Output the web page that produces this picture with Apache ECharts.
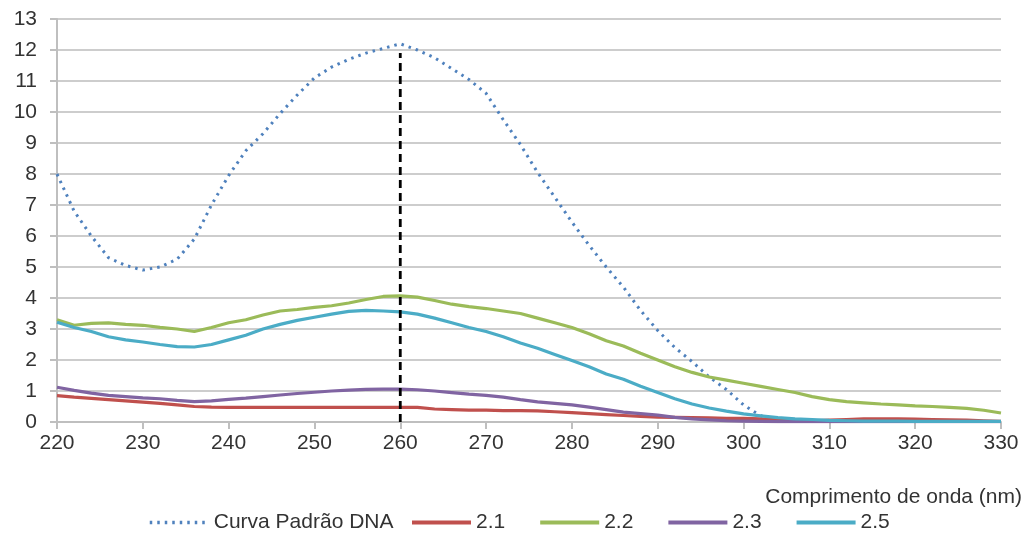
<!DOCTYPE html>
<html>
<head>
<meta charset="utf-8">
<script src="https://cdn.jsdelivr.net/npm/echarts@6/dist/echarts.min.js"></script>
<style>
  html, body { margin: 0; padding: 0; background: #fff; }
  #main { width: 1024px; height: 537px; }
</style>
</head>
<body>
<div id="main"></div>
<script>
    // comprimento de onda (nm), passo de 2
    let wave = [220, 222, 224, 226, 228, 230, 232, 234, 236, 238,
        240, 242, 244, 246, 248, 250, 252, 254, 256, 258,
        260, 262, 264, 266, 268, 270, 272, 274, 276, 278,
        280, 282, 284, 286, 288, 290, 292, 294, 296, 298,
        300, 302, 304, 306, 308, 310, 312, 314, 316, 318,
        320, 322, 324, 326, 328, 330];

    let dna = [8.0, 6.8, 6.0, 5.3, 5.05, 4.9, 5.0, 5.25, 5.9, 7.0,
        7.95, 8.75, 9.3, 9.95, 10.55, 11.1, 11.45, 11.7, 11.9, 12.05,
        12.2, 12.0, 11.75, 11.4, 11.05, 10.6, 9.75, 8.95, 8.05, 7.25,
        6.45, 5.7, 5.0, 4.35, 3.6, 2.95, 2.4, 1.95, 1.45, 1.05,
        0.55, 0.2, 0.05, 0.02, 0.02, 0.02, 0.02, 0.02, 0.02, 0.02,
        0.02, 0.02, 0.02, 0.02, 0.02, 0.02];

    let s21 = [0.85, 0.8, 0.76, 0.72, 0.68, 0.64, 0.6, 0.55, 0.5, 0.48,
        0.47, 0.47, 0.47, 0.47, 0.47, 0.47, 0.47, 0.47, 0.47, 0.47,
        0.47, 0.47, 0.42, 0.4, 0.38, 0.38, 0.37, 0.37, 0.36, 0.33,
        0.3, 0.27, 0.24, 0.21, 0.18, 0.16, 0.15, 0.14, 0.13, 0.12,
        0.12, 0.1, 0.07, 0.04, 0.04, 0.06, 0.08, 0.1, 0.1, 0.1,
        0.09, 0.08, 0.07, 0.06, 0.04, 0.02];

    let s22 = [3.3, 3.12, 3.18, 3.2, 3.15, 3.12, 3.05, 3.0, 2.92, 3.05,
        3.2, 3.3, 3.45, 3.58, 3.63, 3.7, 3.75, 3.84, 3.95, 4.05,
        4.07, 4.03, 3.92, 3.8, 3.72, 3.66, 3.58, 3.5, 3.35, 3.2,
        3.05, 2.85, 2.62, 2.45, 2.22, 2.0, 1.78, 1.6, 1.45, 1.35,
        1.25, 1.15, 1.05, 0.95, 0.82, 0.72, 0.66, 0.62, 0.58, 0.55,
        0.52, 0.5, 0.47, 0.44, 0.38, 0.29];

    let s23 = [1.12, 1.02, 0.93, 0.86, 0.82, 0.78, 0.75, 0.7, 0.66, 0.68,
        0.73, 0.77, 0.82, 0.87, 0.92, 0.96, 1.0, 1.03, 1.05, 1.06,
        1.06, 1.04, 1.0, 0.95, 0.9, 0.86, 0.8, 0.72, 0.65, 0.6,
        0.55, 0.48, 0.4, 0.32, 0.27, 0.22, 0.15, 0.1, 0.07, 0.04,
        0.03, 0.02, 0.01, 0.01, 0.01, 0.01, 0.01, 0.01, 0.01, 0.01,
        0.01, 0.01, 0.01, 0.01, 0.01, 0.01];

    let s25 = [3.22, 3.05, 2.92, 2.75, 2.65, 2.58, 2.5, 2.43, 2.42, 2.5,
        2.65, 2.8, 3.0, 3.15, 3.28, 3.38, 3.48, 3.57, 3.6, 3.58,
        3.55, 3.48, 3.35, 3.2, 3.05, 2.92, 2.75, 2.55, 2.38, 2.18,
        1.98, 1.78, 1.55, 1.38, 1.15, 0.95, 0.75, 0.58, 0.45, 0.35,
        0.26, 0.2, 0.14, 0.1, 0.08, 0.05, 0.04, 0.03, 0.03, 0.03,
        0.02, 0.02, 0.02, 0.02, 0.02, 0.02];

    // linha tracejada em 260 nm
    let peakX = [260, 260];
    let peakY = [0, 11.9];

    let legendDna = ['Curva Padrão DNA'];
    let legendAmostras = ['2.1', '2.2', '2.3', '2.5'];

    function pairs(xs, ys) {
        return xs.map(function (x, i) { return [x, ys[i]]; });
    }

    let myChart = echarts.init(document.getElementById('main'));

    let font = "'Liberation Sans', Arial, sans-serif";
    let txt = '#333333';

    let legendBase = {
        top: 512,
        padding: 0,
        itemWidth: 59,
        itemHeight: 4,
        itemStyle: { opacity: 0 },
        lineStyle: { width: 4 },
        textStyle: { fontFamily: font, fontSize: 21, color: txt }
    };

    let option = {
        animation: false,
        title: {
            text: 'Comprimento de onda (nm)',
            right: 2,
            top: 487,
            padding: 0,
            textStyle: { fontFamily: font, fontSize: 21, fontWeight: 'normal', color: txt }
        },
        legend: [
            Object.assign({}, legendBase, { data: legendDna, left: 148, lineStyle: { width: 3.5 } }),
            Object.assign({}, legendBase, { data: legendAmostras, left: 410, itemGap: 33 })
        ],
        grid: { left: 57, right: 23, top: 19, bottom: 115 },
        xAxis: {
            type: 'value',
            min: 220,
            max: 330,
            interval: 10,
            axisLine: { lineStyle: { color: '#BFBFBF', width: 2 } },
            axisTick: { show: true, length: 7, lineStyle: { color: '#BFBFBF', width: 2 } },
            axisLabel: { fontFamily: font, fontSize: 21, color: txt, margin: 11 },
            splitLine: { show: false }
        },
        yAxis: {
            type: 'value',
            min: 0,
            max: 13,
            interval: 1,
            axisLine: { show: true, lineStyle: { color: '#BFBFBF', width: 2 } },
            axisTick: { show: true, length: 7, lineStyle: { color: '#BFBFBF', width: 2 } },
            axisLabel: { fontFamily: font, fontSize: 21, color: txt, margin: 20 },
            splitLine: { lineStyle: { color: '#BDBDBD', width: 1.5 } }
        },
        series: [
            {
                name: 'Curva Padrão DNA',
                type: 'line',
                symbol: 'none',
                data: pairs(wave, dna),
                lineStyle: { color: '#4F81BD', width: 3, type: [2.5, 5] },
                itemStyle: { color: '#4F81BD' }
            },
            {
                name: '2.1',
                type: 'line',
                symbol: 'none',
                data: pairs(wave, s21),
                lineStyle: { color: '#C0504D', width: 3.2 },
                itemStyle: { color: '#C0504D' }
            },
            {
                name: '2.2',
                type: 'line',
                symbol: 'none',
                data: pairs(wave, s22),
                lineStyle: { color: '#9BBB59', width: 3.2 },
                itemStyle: { color: '#9BBB59' }
            },
            {
                name: '2.3',
                type: 'line',
                symbol: 'none',
                data: pairs(wave, s23),
                lineStyle: { color: '#8064A2', width: 3.2 },
                itemStyle: { color: '#8064A2' }
            },
            {
                name: '2.5',
                type: 'line',
                symbol: 'none',
                data: pairs(wave, s25),
                lineStyle: { color: '#4BACC6', width: 3.2 },
                itemStyle: { color: '#4BACC6' }
            },
            {
                name: 'pico',
                type: 'line',
                symbol: 'none',
                data: pairs(peakX, peakY),
                lineStyle: { color: '#000000', width: 2.8, type: [8, 5] },
                z: 5
            }
        ]
    };

    myChart.setOption(option);
</script>
</body>
</html>
